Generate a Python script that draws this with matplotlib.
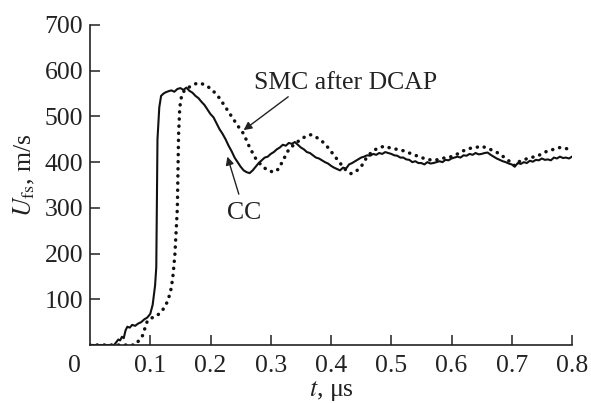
import matplotlib
matplotlib.use("Agg")
import matplotlib.pyplot as plt

# ── Data ──────────────────────────────────────────────────────────────────────

cc_t = [0.0, 0.02, 0.04, 0.043, 0.047, 0.05, 0.053, 0.056, 0.059, 0.062, 0.066,
        0.07, 0.075, 0.08, 0.085, 0.09, 0.095, 0.1, 0.104, 0.108, 0.110, 0.111,
        0.112, 0.115, 0.118, 0.122, 0.126, 0.13, 0.135, 0.14, 0.145, 0.15, 0.155,
        0.16, 0.165, 0.17, 0.175, 0.18, 0.185, 0.19, 0.195, 0.2, 0.205, 0.21,
        0.215, 0.22, 0.225, 0.23, 0.235, 0.24, 0.245, 0.25, 0.255, 0.26, 0.265,
        0.27, 0.275, 0.28, 0.285, 0.29, 0.295, 0.3, 0.305, 0.31, 0.315, 0.32,
        0.325, 0.33, 0.335, 0.34, 0.345, 0.35, 0.355, 0.36, 0.365, 0.37, 0.375,
        0.38, 0.385, 0.39, 0.395, 0.4, 0.405, 0.41, 0.415, 0.42, 0.425, 0.43,
        0.435, 0.44, 0.445, 0.45, 0.455, 0.46, 0.465, 0.47, 0.475, 0.48, 0.485,
        0.49, 0.495, 0.5, 0.505, 0.51, 0.515, 0.52, 0.525, 0.53, 0.535, 0.54,
        0.545, 0.55, 0.555, 0.56, 0.565, 0.57, 0.575, 0.58, 0.585, 0.59, 0.595,
        0.6, 0.605, 0.61, 0.615, 0.62, 0.625, 0.63, 0.635, 0.64, 0.645, 0.65,
        0.655, 0.66, 0.665, 0.67, 0.675, 0.68, 0.685, 0.69, 0.695, 0.7, 0.705,
        0.71, 0.715, 0.72, 0.725, 0.73, 0.735, 0.74, 0.745, 0.75, 0.755, 0.76,
        0.765, 0.77, 0.775, 0.78, 0.785, 0.79, 0.795, 0.8]
cc_u = [0, 0, 0, 5, 12, 10, 18, 15, 32, 40, 38,
        44, 42, 47, 50, 56, 60, 68, 88, 130, 170, 300,
        450, 520, 545, 550, 553, 555, 557, 554, 560, 562, 558,
        563, 556, 552, 545, 540, 532, 525, 515, 505, 498, 485,
        472, 462, 450, 436, 424, 410, 400, 390, 382, 378, 376,
        382, 390, 398, 404, 410, 412, 418, 422, 428, 432, 438,
        436, 442, 440, 444, 438, 432, 428, 422, 420, 415, 410,
        408, 404, 400, 397, 392, 388, 385, 382, 388, 386, 395,
        398, 402, 406, 410, 412, 415, 414, 418, 416, 420, 418,
        422, 420, 418, 415, 414, 410, 410, 406, 405, 400, 402,
        398, 398, 395, 400, 397, 398, 400, 402, 400, 405, 404,
        408, 410, 412, 410, 415, 414, 418, 416, 420, 417, 418,
        420, 421, 416, 412, 408, 405, 402, 400, 397, 395, 390,
        398, 396, 400, 398, 403, 401, 405, 404, 408, 405, 406,
        404, 410, 408, 412, 409, 410, 408, 412]

smc_t = [0.0, 0.03, 0.075, 0.08, 0.087, 0.092, 0.095, 0.1, 0.11, 0.118, 0.125,
         0.13, 0.135, 0.138, 0.141, 0.143, 0.145, 0.146, 0.147, 0.149, 0.152,
         0.157, 0.163, 0.17, 0.178, 0.185, 0.195, 0.205, 0.215, 0.225, 0.235,
         0.245, 0.255, 0.265, 0.275, 0.285, 0.295, 0.305, 0.313, 0.322, 0.33,
         0.34, 0.35, 0.36, 0.367, 0.375, 0.385, 0.395, 0.405, 0.415, 0.425,
         0.433, 0.44, 0.45, 0.46, 0.47, 0.48, 0.49, 0.5, 0.51, 0.52, 0.53,
         0.54, 0.55, 0.56, 0.57, 0.58, 0.59, 0.6, 0.61, 0.62, 0.63, 0.64,
         0.65, 0.66, 0.67, 0.68, 0.69, 0.7, 0.705, 0.71, 0.72, 0.73, 0.74,
         0.75, 0.76, 0.77, 0.78, 0.79, 0.8]
smc_u = [0, 0, 0, 8, 20, 40, 52, 58, 63, 72, 85,
         100, 125, 155, 200, 250, 300, 380, 460, 520, 545,
         558, 563, 568, 573, 572, 566, 555, 540, 520, 500,
         480, 462, 432, 408, 392, 382, 378, 385, 408, 428,
         440, 450, 458, 460, 455, 446, 432, 415, 398, 382,
         375, 378, 390, 412, 425, 432, 435, 430, 428, 425, 420,
         415, 410, 406, 404, 406, 410, 412, 418, 425, 430, 432,
         435, 430, 425, 418, 408, 398, 392, 400, 405, 410, 412,
         418, 425, 428, 432, 430, 425]

x_ticks = [0.1, 0.2, 0.3, 0.4, 0.5, 0.6, 0.7, 0.8]
y_ticks = [100, 200, 300, 400, 500, 600, 700]

# ── Plot ──────────────────────────────────────────────────────────────────────

plt.rcParams['font.family'] = 'Liberation Serif'
plt.rcParams['mathtext.fontset'] = 'stix'

FS = 18.5
ink = '#222222'
fig = plt.figure(figsize=(5.91, 4.03), dpi=100)
ax = fig.add_axes([90/591, 1 - 345/403, (572 - 90)/591, (345 - 25)/403])

ax.plot(cc_t, cc_u, color='#111111', lw=1.5)
ax.plot(smc_t, smc_u, color='#111111', lw=2.5, linestyle=(0, (0.05, 2.0)),
        dash_capstyle='round')

ax.set_xlim(0, 0.8)
ax.set_ylim(0, 700)
ax.set_xticks(x_ticks)
ax.set_xticklabels([f"{v:g}" for v in x_ticks])
ax.set_yticks(y_ticks)
for s in ['top', 'right']:
    ax.spines[s].set_visible(False)
for s in ['left', 'bottom']:
    ax.spines[s].set_linewidth(1.2)
    ax.spines[s].set_color(ink)
ax.tick_params(direction='in', length=7, width=1.1, colors=ink,
               labelsize=FS)
ax.tick_params(axis='x', pad=7)
ax.tick_params(axis='y', pad=5)
ax.annotate("0", xy=(0, 0), xytext=(-11, -7), textcoords='offset points',
            ha='center', va='top', fontsize=FS, color=ink)

ax.set_xlabel(r"$t$, μs", fontsize=FS, color=ink)
ax.xaxis.set_label_coords(0.5, -0.106)
ax.set_ylabel(r"$U_{\rm fs}$, m/s", fontsize=FS, color=ink)
ax.yaxis.set_label_coords(-0.11, 0.53)

arrow = dict(arrowstyle='-|>', color=ink, lw=1.0, mutation_scale=12,
             shrinkA=0, shrinkB=0)
ax.annotate("SMC after DCAP", xy=(0.255, 470), xytext=(0.425, 573),
            ha='center', va='center', fontsize=FS, color=ink)
ax.annotate("", xy=(0.255, 470), xytext=(0.329, 543), arrowprops=arrow)
ax.annotate("CC", xy=(0.228, 412), xytext=(0.255, 289),
            ha='center', va='center', fontsize=FS, color=ink)
ax.annotate("", xy=(0.228, 412), xytext=(0.247, 330), arrowprops=arrow)

fig.savefig("out.png", dpi=100)
